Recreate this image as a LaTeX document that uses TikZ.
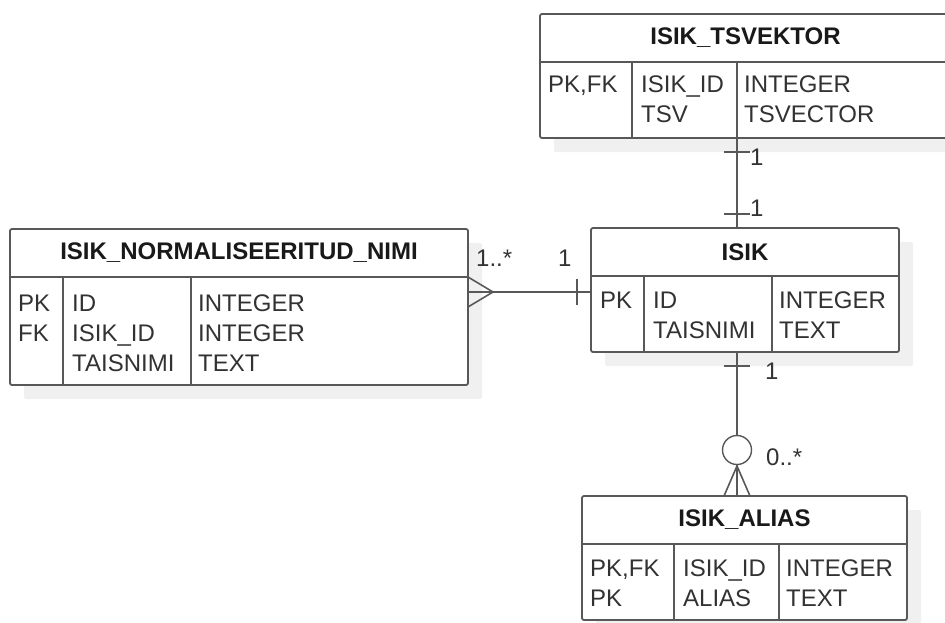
\documentclass[tikz,border=0pt]{standalone}
\usepackage{fontspec}
\setmainfont{Liberation Sans}
\usetikzlibrary{shadows}

\definecolor{linegray}{RGB}{88,88,88}
\definecolor{textgray}{RGB}{50,50,50}
\definecolor{shadegray}{RGB}{240,240,240}

\begin{document}
\begin{tikzpicture}[
    x=1pt, y=-1pt,
    entity/.style={rectangle, draw=linegray, line width=1.8pt, fill=white, rounded corners=2pt, inner sep=0pt, outer sep=0pt, general shadow={shadow xshift=14pt, shadow yshift=-14pt, fill=shadegray}},
    entitytitle/.style={inner sep=0pt, font=\fontsize{24}{30}\selectfont\bfseries, text=black!90},
    attrs/.style={inner sep=0pt, anchor=north west, align=left, font=\fontsize{24}{30}\selectfont, text=textgray},
    divider/.style={draw=linegray, line width=1.8pt},
    cardlabel/.style={inner sep=0pt, anchor=base west, font=\fontsize{24}{30}\selectfont, text=textgray},
    rel/.style={draw=linegray, line width=1.6pt}
]
\useasboundingbox (0,0) rectangle (945,622);

% ISIK_TSVEKTOR
\node[entity, minimum width=411pt, minimum height=124pt, anchor=north west] (tsv) at (540,14) {};
\node[entitytitle] (tsvtitle) at ([yshift=-24pt]tsv.north) {ISIK\_TSVEKTOR};
\draw[divider] ([yshift=-48pt]tsv.north west) -- ([yshift=-48pt]tsv.north east);
\draw[divider] ([shift={(92pt,-48pt)}]tsv.north west) -- ([xshift=92pt]tsv.south west);
\draw[divider] ([shift={(197pt,-48pt)}]tsv.north west) -- ([xshift=197pt]tsv.south west);
\node[attrs] (tsvkey) at ([shift={(8pt,-62pt)}]tsv.north west) {PK,FK};
\node[attrs] (tsvname) at ([shift={(101pt,-62pt)}]tsv.north west) {ISIK\_ID\\TSV};
\node[attrs] (tsvtype) at ([shift={(204pt,-62pt)}]tsv.north west) {INTEGER\\TSVECTOR};

% ISIK_NORMALISEERITUD_NIMI
\node[entity, minimum width=458pt, minimum height=156pt, anchor=north west] (norm) at (10,229) {};
\node[entitytitle] (normtitle) at ([yshift=-24pt]norm.north) {ISIK\_NORMALISEERITUD\_NIMI};
\draw[divider] ([yshift=-48pt]norm.north west) -- ([yshift=-48pt]norm.north east);
\draw[divider] ([shift={(53pt,-48pt)}]norm.north west) -- ([xshift=53pt]norm.south west);
\draw[divider] ([shift={(181pt,-48pt)}]norm.north west) -- ([xshift=181pt]norm.south west);
\node[attrs] (normkey) at ([shift={(8pt,-66pt)}]norm.north west) {PK\\FK};
\node[attrs] (normname) at ([shift={(62pt,-66pt)}]norm.north west) {ID\\ISIK\_ID\\TAISNIMI};
\node[attrs] (normtype) at ([shift={(188pt,-66pt)}]norm.north west) {INTEGER\\INTEGER\\TEXT};

% ISIK
\node[entity, minimum width=308pt, minimum height=124pt, anchor=north west] (isik) at (591,228) {};
\node[entitytitle] (isiktitle) at ([yshift=-24pt]isik.north) {ISIK};
\draw[divider] ([yshift=-48pt]isik.north west) -- ([yshift=-48pt]isik.north east);
\draw[divider] ([shift={(53pt,-48pt)}]isik.north west) -- ([xshift=53pt]isik.south west);
\draw[divider] ([shift={(181pt,-48pt)}]isik.north west) -- ([xshift=181pt]isik.south west);
\node[attrs] (isikkey) at ([shift={(9pt,-64pt)}]isik.north west) {PK};
\node[attrs] (isikname) at ([shift={(62pt,-64pt)}]isik.north west) {ID\\TAISNIMI};
\node[attrs] (isiktype) at ([shift={(188pt,-64pt)}]isik.north west) {INTEGER\\TEXT};

% ISIK_ALIAS
\node[entity, minimum width=325pt, minimum height=124pt, anchor=north west] (alias) at (582,496) {};
\node[entitytitle] (aliastitle) at ([yshift=-24pt]alias.north) {ISIK\_ALIAS};
\draw[divider] ([yshift=-48pt]alias.north west) -- ([yshift=-48pt]alias.north east);
\draw[divider] ([shift={(92pt,-48pt)}]alias.north west) -- ([xshift=92pt]alias.south west);
\draw[divider] ([shift={(197pt,-48pt)}]alias.north west) -- ([xshift=197pt]alias.south west);
\node[attrs] (aliaskey) at ([shift={(8pt,-64pt)}]alias.north west) {PK,FK\\PK};
\node[attrs] (aliasname) at ([shift={(101pt,-64pt)}]alias.north west) {ISIK\_ID\\ALIAS};
\node[attrs] (aliastype) at ([shift={(204pt,-64pt)}]alias.north west) {INTEGER\\TEXT};

% ISIK_TSVEKTOR -- ISIK, one to one
\coordinate (tsvend) at ([xshift=197pt]tsv.south west);
\coordinate (isiktop) at (tsvend |- isik.north);
\draw[rel] (tsvend) -- (isiktop);
\draw[rel] ([shift={(-13pt,-14pt)}]tsvend) -- ++(26,0);
\draw[rel] ([shift={(-13pt,14pt)}]isiktop) -- ++(26,0);
\node[cardlabel] at ([shift={(13pt,-27pt)}]tsvend) {1};
\node[cardlabel] at ([shift={(13pt,12pt)}]isiktop) {1};

% ISIK_NORMALISEERITUD_NIMI -- ISIK, many to one
\coordinate (isikleft) at ([yshift=-64pt]isik.north west);
\coordinate (normright) at (isikleft -| norm.east);
\draw[rel] (normright) -- (isikleft);
\draw[rel] ([yshift=15pt]normright) -- ([xshift=25pt]normright) -- ([yshift=-15pt]normright);
\draw[rel] ([shift={(-14pt,13pt)}]isikleft) -- ++(0,26);
\node[cardlabel] at ([shift={(8pt,26pt)}]normright) {1..*};
\node[cardlabel] at ([shift={(-33pt,26pt)}]isikleft) {1};

% ISIK -- ISIK_ALIAS, one to zero or many
\coordinate (isikbot) at ([xshift=146pt]isik.south west);
\coordinate (aliastop) at (isikbot |- alias.north);
\node[circle, draw=linegray, line width=1.4pt, minimum size=29pt, inner sep=0pt] (optional) at ([yshift=46pt]aliastop) {};
\draw[rel] (isikbot) -- (optional);
\draw[rel] (optional) -- (aliastop);
\draw[rel] ([xshift=-13pt]aliastop) -- ([yshift=30pt]aliastop) -- ([xshift=13pt]aliastop);
\draw[rel] ([shift={(-13pt,-14pt)}]isikbot) -- ++(26,0);
\node[cardlabel] at ([shift={(28pt,-27pt)}]isikbot) {1};
\node[cardlabel] at ([shift={(29pt,31pt)}]aliastop) {0..*};

\end{tikzpicture}
\end{document}
